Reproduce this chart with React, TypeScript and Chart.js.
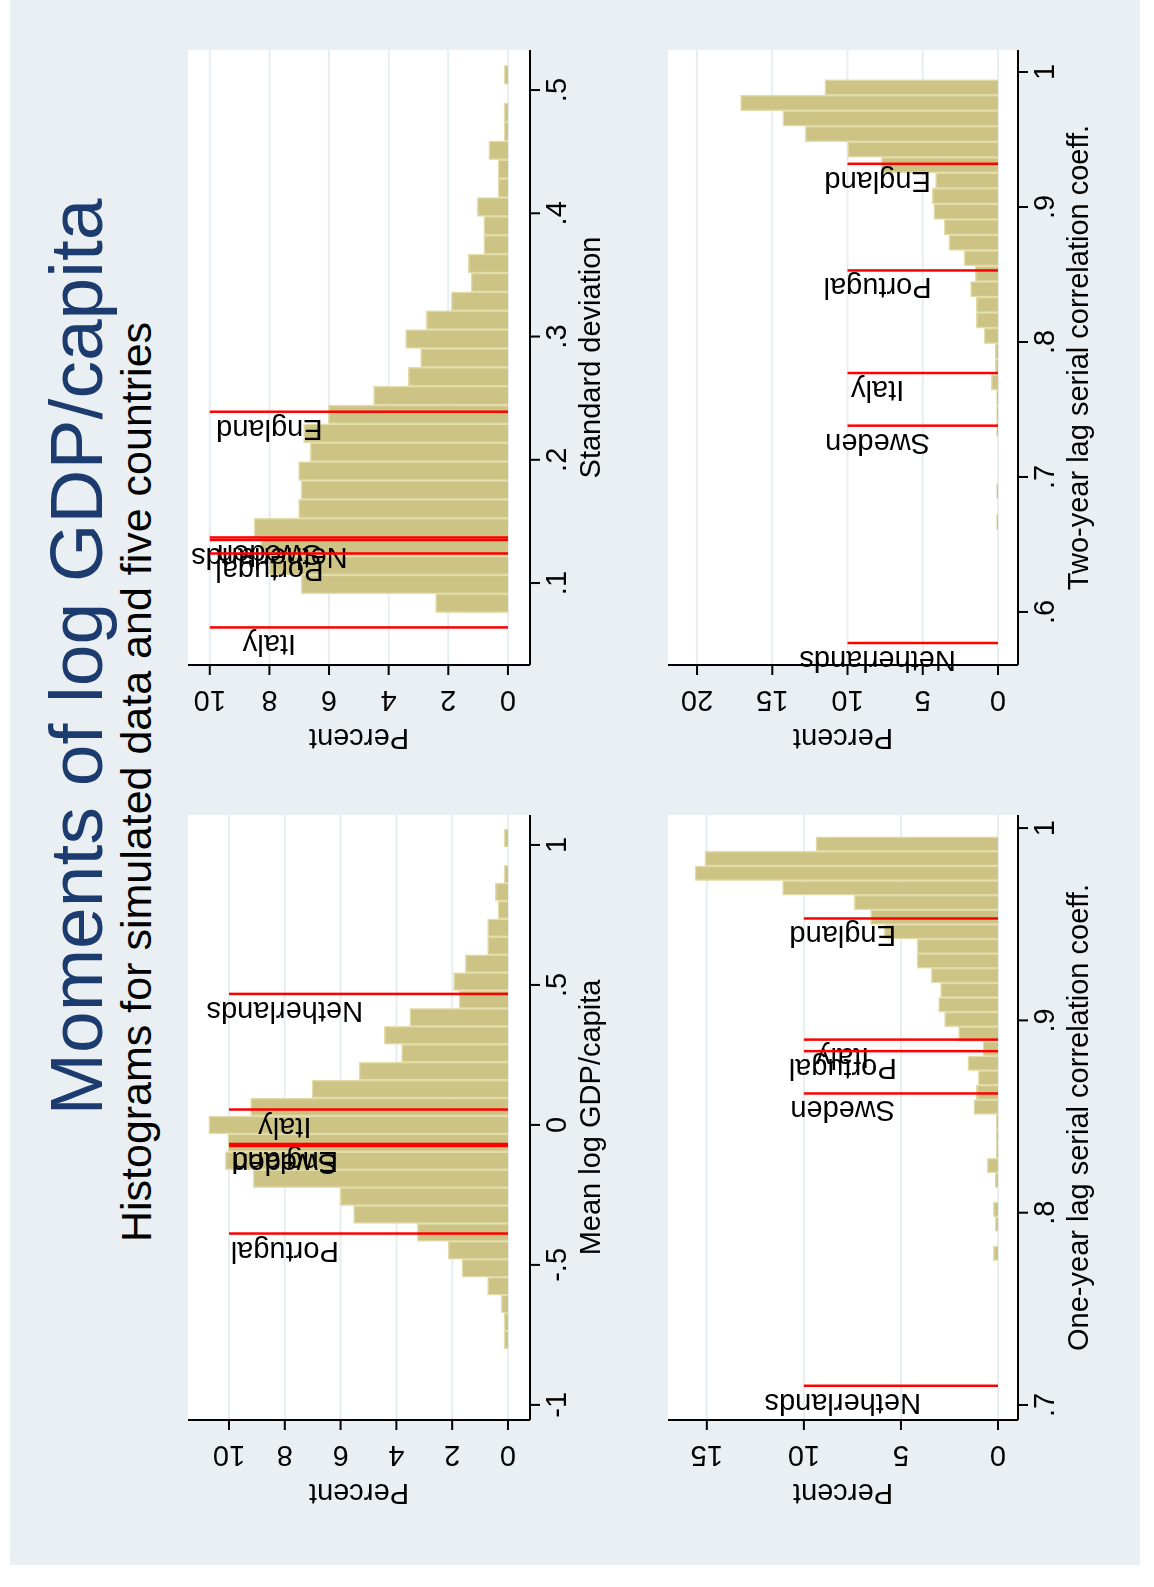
import { useEffect, useRef } from 'react';
import Chart from 'chart.js/auto';

const countryNames = ['Netherlands', 'Italy', 'England', 'Sweden', 'Portugal'];

// Mean log GDP/capita
const meanBinStart = -0.8;
const meanBinWidth = 0.064;
const meanPct = [0.14, 0.14, 0.24, 0.73, 1.65, 2.15, 3.25, 5.53, 6.02, 9.13, 10.13, 10.04, 10.72, 9.23, 7.02, 5.34, 3.81, 4.43, 3.52, 1.75, 1.95, 1.53, 0.73, 0.73, 0.35, 0.45, 0.14, 0, 0.14];
const meanCountry = [0.468, 0.055, -0.068, -0.075, -0.388];
const meanTicks = [-1, -0.5, 0, 0.5, 1];
const meanTickLabels = ['-1', '-.5', '0', '.5', '1'];

// Standard deviation
const sdBinStart = 0.076;
const sdBinWidth = 0.01531;
const sdPct = [2.43, 6.93, 8.0, 8.3, 8.51, 7.02, 6.94, 7.02, 6.63, 6.85, 6.02, 4.51, 3.34, 2.93, 3.43, 2.74, 1.9, 1.24, 1.33, 0.81, 0.81, 1.03, 0.33, 0.33, 0.64, 0.13, 0.13, 0, 0.13];
const sdCountry = [0.135, 0.064, 0.239, 0.137, 0.124];
const sdTicks = [0.1, 0.2, 0.3, 0.4, 0.5];
const sdTickLabels = ['.1', '.2', '.3', '.4', '.5'];

// One-year lag serial correlation
const ac1BinStart = 0.7751;
const ac1BinWidth = 0.0076;
const ac1Pct = [0.24, 0, 0.14, 0.24, 0, 0.14, 0.55, 0.08, 0.08, 0.08, 1.24, 1.12, 1.03, 1.55, 0.77, 2.03, 2.75, 3.06, 2.96, 3.44, 4.17, 4.17, 5.85, 6.57, 7.4, 11.1, 15.6, 15.1, 9.38];
const ac1Country = [0.71, 0.89, 0.953, 0.862, 0.884];
const ac1Ticks = [0.7, 0.8, 0.9, 1];
const ac1TickLabels = ['.7', '.8', '.9', '1'];

// Two-year lag serial correlation
const ac2BinStart = 0.6608;
const ac2BinWidth = 0.0115;
const ac2Pct = [0.1, 0, 0.1, 0, 0, 0, 0.1, 0.1, 0.1, 0.44, 0.18, 0.18, 0.93, 1.44, 1.44, 1.82, 1.51, 2.26, 3.26, 3.59, 4.26, 4.37, 4.15, 7.76, 10, 12.8, 14.3, 17.1, 11.5];
const ac2Country = [0.577, 0.777, 0.932, 0.738, 0.853];
const ac2Ticks = [0.6, 0.7, 0.8, 0.9, 1];
const ac2TickLabels = ['.6', '.7', '.8', '.9', '1'];

const FONT = '"Liberation Sans", Arial, sans-serif';
const PAD_L = 110;
const PAD_B = 110;

interface PanelProps {
  left: number;
  top: number;
  width: number;
  height: number;
  binStart: number;
  binWidth: number;
  pct: number[];
  country: number[];
  xMin: number;
  xMax: number;
  yMin: number;
  yMax: number;
  xTicks: number[];
  xTickLabels: string[];
  yTicks: number[];
  xTitle: string;
}

function Panel(p: PanelProps) {
  const canvasRef = useRef<HTMLCanvasElement>(null);

  useEffect(() => {
    if (!canvasRef.current) return;
    const points = p.pct.map((v, i) => ({ x: p.binStart + p.binWidth * (i + 0.5), y: v }));

    const decor = {
      id: 'decor',
      beforeDatasetsDraw(chart: any) {
        const { ctx, chartArea: a, scales } = chart;
        ctx.save();
        ctx.fillStyle = '#ffffff';
        ctx.fillRect(a.left, a.top, a.right - a.left, a.bottom - a.top);
        ctx.strokeStyle = '#e6eef1';
        ctx.lineWidth = 2;
        p.yTicks.forEach(t => {
          const y = scales.y.getPixelForValue(t);
          ctx.beginPath();
          ctx.moveTo(a.left, y);
          ctx.lineTo(a.right, y);
          ctx.stroke();
        });
        ctx.restore();
      },
      afterDatasetsDraw(chart: any) {
        const { ctx, chartArea: a, scales } = chart;
        ctx.save();
        // country lines
        ctx.strokeStyle = '#ff0000';
        ctx.lineWidth = 2.5;
        const y0 = scales.y.getPixelForValue(0);
        const y10 = scales.y.getPixelForValue(10);
        const y8 = scales.y.getPixelForValue(8);
        ctx.fillStyle = '#000';
        ctx.font = `29px ${FONT}`;
        ctx.textAlign = 'center';
        ctx.textBaseline = 'alphabetic';
        p.country.forEach((v, i) => {
          const x = scales.x.getPixelForValue(v);
          ctx.beginPath();
          ctx.moveTo(x, y0);
          ctx.lineTo(x, y10);
          ctx.stroke();
          ctx.save();
          ctx.translate(x - 8, y8);
          ctx.rotate(-Math.PI / 2);
          ctx.fillText(countryNames[i], 0, 0);
          ctx.restore();
        });
        // axes
        ctx.strokeStyle = '#000';
        ctx.lineWidth = 2;
        ctx.beginPath();
        ctx.moveTo(a.left, a.top);
        ctx.lineTo(a.left, a.bottom);
        ctx.moveTo(a.left, a.bottom);
        ctx.lineTo(a.right, a.bottom);
        ctx.stroke();
        ctx.font = `29px ${FONT}`;
        ctx.textAlign = 'center';
        ctx.textBaseline = 'middle';
        p.yTicks.forEach(t => {
          const y = scales.y.getPixelForValue(t);
          ctx.beginPath();
          ctx.moveTo(a.left, y);
          ctx.lineTo(a.left - 10, y);
          ctx.stroke();
          ctx.save();
          ctx.translate(a.left - 34, y);
          ctx.rotate(-Math.PI / 2);
          ctx.fillText(String(t), 0, 0);
          ctx.restore();
        });
        ctx.save();
        ctx.translate(a.left - 72, (a.top + a.bottom) / 2);
        ctx.rotate(-Math.PI / 2);
        ctx.fillText('Percent', 0, 0);
        ctx.restore();
        p.xTicks.forEach((t, i) => {
          const x = scales.x.getPixelForValue(t);
          ctx.beginPath();
          ctx.moveTo(x, a.bottom);
          ctx.lineTo(x, a.bottom + 10);
          ctx.stroke();
          ctx.fillText(p.xTickLabels[i], x, a.bottom + 28);
        });
        ctx.fillText(p.xTitle, (a.left + a.right) / 2, a.bottom + 62);
        ctx.restore();
      },
    };

    const chart = new Chart(canvasRef.current, {
      type: 'bar',
      data: {
        datasets: [
          {
            data: points,
            backgroundColor: '#cdc384',
            borderColor: '#e2dcaa',
            borderWidth: 1.5,
            barPercentage: 1,
            categoryPercentage: 1,
          },
        ],
      },
      options: {
        responsive: false,
        animation: false,
        layout: { padding: { left: PAD_L, bottom: PAD_B, top: 0, right: 0 } },
        plugins: { legend: { display: false }, tooltip: { enabled: false } },
        scales: {
          x: { type: 'linear', min: p.xMin, max: p.xMax, display: false, offset: false },
          y: { min: p.yMin, max: p.yMax, display: false },
        },
      },
      plugins: [decor],
    });
    return () => chart.destroy();
  }, []);

  return (
    <canvas
      ref={canvasRef}
      width={p.width + PAD_L}
      height={p.height + PAD_B}
      style={{ position: 'absolute', left: p.left - PAD_L, top: p.top, width: p.width + PAD_L, height: p.height + PAD_B }}
    />
  );
}

export default function App() {
  return (
    <div style={{ position: 'absolute', left: 0, top: 0, width: 1154, height: 1587, background: '#fff', overflow: 'hidden' }}>
      <div
        style={{
          position: 'absolute',
          left: 0,
          top: 0,
          width: 1587,
          height: 1154,
          transformOrigin: '0 0',
          transform: 'translateY(1587px) rotate(-90deg)',
          fontFamily: FONT,
        }}
      >
        <div style={{ position: 'absolute', left: 22, top: 10, width: 1565, height: 1130, background: '#e9eff2' }} />
        <div style={{ position: 'absolute', left: 330, width: 1200, top: 36, textAlign: 'center', fontSize: 75, color: '#1c3b6f', lineHeight: '80px' }}>
          Moments of log GDP/capita
        </div>
        <div style={{ position: 'absolute', left: 205, width: 1200, top: 112, textAlign: 'center', fontSize: 43, color: '#000', lineHeight: '48px' }}>
          Histograms for simulated data and five countries
        </div>
        <Panel left={167} top={188} width={605} height={342} binStart={meanBinStart} binWidth={meanBinWidth} pct={meanPct} country={meanCountry}
          xMin={-1.054} xMax={1.107} yMin={-0.79} yMax={11.47} xTicks={meanTicks} xTickLabels={meanTickLabels} yTicks={[0, 2, 4, 6, 8, 10]} xTitle="Mean log GDP/capita" />
        <Panel left={922} top={188} width={615} height={342} binStart={sdBinStart} binWidth={sdBinWidth} pct={sdPct} country={sdCountry}
          xMin={0.0335} xMax={0.5325} yMin={-0.74} yMax={10.73} xTicks={sdTicks} xTickLabels={sdTickLabels} yTicks={[0, 2, 4, 6, 8, 10]} xTitle="Standard deviation" />
        <Panel left={167} top={668} width={605} height={350} binStart={ac1BinStart} binWidth={ac1BinWidth} pct={ac1Pct} country={ac1Country}
          xMin={0.6922} xMax={1.0068} yMin={-1.03} yMax={17.0} xTicks={ac1Ticks} xTickLabels={ac1TickLabels} yTicks={[0, 5, 10, 15]} xTitle="One-year lag serial correlation coeff." />
        <Panel left={922} top={668} width={615} height={350} binStart={ac2BinStart} binWidth={ac2BinWidth} pct={ac2Pct} country={ac2Country}
          xMin={0.5607} xMax={1.0163} yMin={-1.33} yMax={21.93} xTicks={ac2Ticks} xTickLabels={ac2TickLabels} yTicks={[0, 5, 10, 15, 20]} xTitle="Two-year lag serial correlation coeff." />
      </div>
    </div>
  );
}
